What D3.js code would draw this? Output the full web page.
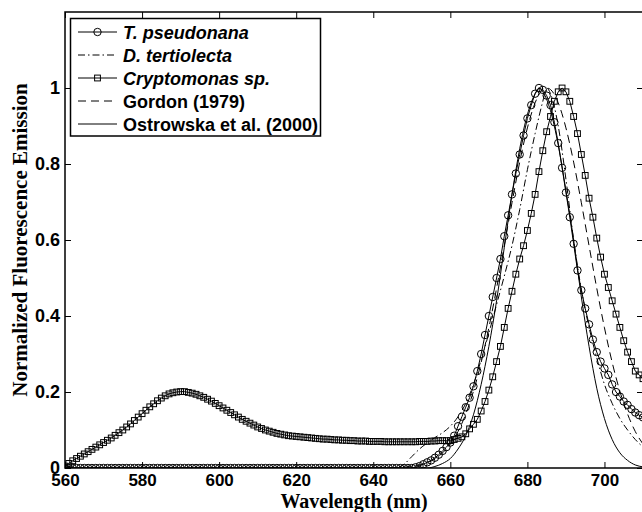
<!DOCTYPE html>
<html>
<head>
<meta charset="utf-8">
<script src="https://cdn.jsdelivr.net/npm/d3@7"></script>
<style>
  body { margin: 0; background: #fff; }
  svg { display: block; }
</style>
</head>
<body>
<div id="graf"></div>
<script>
// Datos (longitud de onda en nm, emision normalizada)
const wl1nm = [
  560,561,562,563,564,565,566,567,568,569,570,571,572,573,574,575,576,577,578,579,
  580,581,582,583,584,585,586,587,588,589,590,591,592,593,594,595,596,597,598,599,
  600,601,602,603,604,605,606,607,608,609,610,611,612,613,614,615,616,617,618,619,
  620,621,622,623,624,625,626,627,628,629,630,631,632,633,634,635,636,637,638,639,
  640,641,642,643,644,645,646,647,648,649,650,651,652,653,654,655,656,657,658,659,
  660,661,662,663,664,665,666,667,668,669,670,671,672,673,674,675,676,677,678,679,
  680,681,682,683,684,685,686,687,688,689,690,691,692,693,694,695,696,697,698,699,
  700,701,702,703,704,705,706,707,708,709,710]

// T. pseudonana (circulos)
const tPseudonana = [
  0,0,0,0,0,0,0,0,0,0, 0,0,0,0,0,0,0,0,0,0,
  0,0,0,0,0,0,0,0,0,0, 0,0,0,0,0,0,0,0,0,0,
  0,0,0,0,0,0,0,0,0,0, 0,0,0,0,0,0,0,0,0,0,
  0,0,0,0,0,0,0,0,0,0, 0,0,0,0,0,0,0,0,0,0,
  0,0,0,0,0,0,0,0,0,0, 0,0.002,0.005,0.01,0.015,0.02,0.027,0.035,0.045,0.055,
  0.067,0.085,0.11,0.135,0.16,0.185,0.215,0.255,0.3,0.35,
  0.4,0.45,0.5,0.55,0.61,0.665,0.72,0.775,0.825,0.875,
  0.92,0.955,0.985,1.0,0.995,0.98,0.955,0.91,0.855,0.79,
  0.725,0.66,0.59,0.52,0.468,0.42,0.378,0.338,0.305,0.28,
  0.262,0.245,0.22,0.2,0.188,0.175,0.166,0.155,0.146,0.139,0.133]

// Cryptomonas sp. (cuadrados)
const cryptomonas = [
  0.005,0.012,0.019,0.025,0.031,0.037,0.043,0.049,0.055,0.061,
  0.067,0.073,0.079,0.086,0.093,0.100,0.108,0.116,0.125,0.134,
  0.143,0.152,0.161,0.169,0.177,0.184,0.190,0.195,0.198,0.200,
  0.201,0.201,0.199,0.197,0.194,0.190,0.186,0.181,0.176,0.170,
  0.164,0.158,0.152,0.146,0.140,0.134,0.128,0.123,0.118,0.113,
  0.108,0.104,0.100,0.097,0.094,0.091,0.089,0.087,0.085,0.084,
  0.083,0.082,0.081,0.080,0.079,0.078,0.077,0.076,0.076,0.075,
  0.074,0.074,0.073,0.073,0.072,0.072,0.071,0.071,0.071,0.070,
  0.070,0.070,0.070,0.069,0.069,0.069,0.069,0.069,0.069,0.069,
  0.069,0.069,0.070,0.070,0.070,0.071,0.071,0.072,0.072,0.072,
  0.072,0.075,0.078,0.082,0.09,0.103,0.115,0.128,0.15,0.175,
  0.205,0.24,0.28,0.32,0.37,0.42,0.465,0.51,0.55,0.585,
  0.625,0.67,0.72,0.78,0.835,0.885,0.925,0.965,0.99,1.0,
  0.99,0.965,0.925,0.88,0.825,0.77,0.71,0.66,0.605,0.555,
  0.51,0.475,0.44,0.405,0.37,0.335,0.305,0.28,0.255,0.245,0.235]

// D. tertiolecta (raya-punto)
const dtWl = [560,646,648,650,652,654,656,658,660,662,664,666,668,670,672,674,676,678,680,682,684,685,686,688,690,692,694,696,698,700,702,704,706,708,710]
const dTertiolecta = [0,0,0.01,0.03,0.05,0.066,0.08,0.093,0.11,0.135,0.17,0.22,0.285,0.355,0.43,0.505,0.585,0.68,0.785,0.88,0.965,1.0,0.985,0.9,0.76,0.6,0.47,0.37,0.29,0.22,0.17,0.13,0.1,0.075,0.055]

// Gordon (1979) (rayas)
const gordonWl = [560,646,648,650,652,654,656,658,660,662,664,666,668,670,672,674,676,678,680,682,684,685,686,688,690,692,694,696,698,700,702,704,706,708,710]
const gordon = [0,0.001,0.002,0.004,0.008,0.014,0.024,0.04,0.063,0.096,0.142,0.202,0.278,0.369,0.473,0.585,0.698,0.805,0.895,0.961,0.996,1.0,0.996,0.961,0.895,0.805,0.698,0.585,0.473,0.369,0.278,0.202,0.142,0.096,0.063]

// Ostrowska et al. (2000) (linea continua)
const ostWl = [560,654,656,658,660,662,664,666,668,670,672,674,676,678,680,682,683,684,686,688,690,692,694,696,698,700,702,704,706,708,710]
const ostrowska = [0,0,0.004,0.012,0.025,0.05,0.085,0.14,0.22,0.32,0.44,0.58,0.72,0.84,0.93,0.985,1.0,0.99,0.94,0.85,0.73,0.6,0.45,0.32,0.21,0.13,0.075,0.04,0.02,0.008,0.003]

const xTicks = [560, 580, 600, 620, 640, 660, 680, 700]
const yTicks = [0, 0.2, 0.4, 0.6, 0.8, 1]
const legendLabels = ['T. pseudonana', 'D. tertiolecta', 'Cryptomonas sp.', 'Gordon (1979)', 'Ostrowska et al. (2000)']

// Espacio de visualizacion
ancho_total = 642
alto_total = 512
margins = {top: 12, left: 65, right: -1, bottom: 44}
ancho = ancho_total - margins.left - margins.right
alto = alto_total - margins.top - margins.bottom

svg = d3.select('#graf').append('svg')
  .attr('width', ancho_total)
  .attr('height', alto_total)

g = svg.append('g')
  .attr('transform', `translate(${margins.left}, ${margins.top})`)

x = d3.scaleLinear().domain([560, 710]).range([0, ancho])
y = d3.scaleLinear().domain([0, 1.2]).range([alto, 0])

sansBold = "'Liberation Sans', Arial, sans-serif"
serif = "'Liberation Serif', 'Times New Roman', serif"

g.append('clipPath').attr('id', 'clip')
  .append('rect').attr('x', 0).attr('y', 0).attr('width', ancho).attr('height', alto)

// Ejes (ticks hacia dentro, estilo MATLAB)
ejeX = g.append('g')
  .attr('transform', `translate(0, ${alto})`)
  .call(d3.axisBottom(x).tickValues(xTicks).tickSizeInner(-6).tickSizeOuter(0).tickPadding(6).tickFormat(d3.format('d')))
ejeY = g.append('g')
  .call(d3.axisLeft(y).tickValues(yTicks).tickSizeInner(-6).tickSizeOuter(0).tickPadding(5).tickFormat(d3.format('~g')))
ejeXTop = g.append('g')
  .call(d3.axisTop(x).tickValues(xTicks).tickSizeInner(-6).tickSizeOuter(0).tickFormat(''))
ejeYDer = g.append('g')
  .attr('transform', `translate(${ancho}, 0)`)
  .call(d3.axisRight(y).tickValues(yTicks).tickSizeInner(-6).tickSizeOuter(0).tickFormat(''))

;[ejeX, ejeY, ejeXTop, ejeYDer].forEach(a => {
  a.select('.domain').remove()
  a.selectAll('.tick line').attr('stroke', '#000').attr('stroke-width', 1)
  a.selectAll('.tick text')
    .attr('font-family', sansBold)
    .attr('font-weight', 'bold')
    .attr('font-size', a === ejeX ? '17px' : '18px')
    .attr('fill', '#000')
})

// Marco
g.append('rect')
  .attr('x', 0).attr('y', 0)
  .attr('width', ancho).attr('height', alto)
  .attr('fill', 'none')
  .attr('stroke', '#000')
  .attr('stroke-width', 1.5)

// Series
series = [
  {name: legendLabels[0], xs: wl1nm, ys: tPseudonana, dash: null, marker: 'circle', curve: d3.curveLinear},
  {name: legendLabels[1], xs: dtWl, ys: dTertiolecta, dash: '7,3,1.5,3', marker: null, curve: d3.curveMonotoneX},
  {name: legendLabels[2], xs: wl1nm, ys: cryptomonas, dash: null, marker: 'square', curve: d3.curveLinear},
  {name: legendLabels[3], xs: gordonWl, ys: gordon, dash: '8,5', marker: null, curve: d3.curveMonotoneX},
  {name: legendLabels[4], xs: ostWl, ys: ostrowska, dash: null, marker: null, curve: d3.curveMonotoneX}
]

plot = g.append('g').attr('clip-path', 'url(#clip)')

function drawMarker(sel, tipo, cx, cy) {
  if (tipo == 'circle') {
    sel.append('circle')
      .attr('cx', cx).attr('cy', cy).attr('r', 3.7)
      .attr('fill', 'none').attr('stroke', '#000').attr('stroke-width', 1)
  } else if (tipo == 'square') {
    sel.append('rect')
      .attr('x', cx - 2.9).attr('y', cy - 2.9)
      .attr('width', 5.8).attr('height', 5.8)
      .attr('fill', 'none').attr('stroke', '#000').attr('stroke-width', 1)
  }
}

series.forEach(s => {
  pts = s.xs.map((w, i) => [w, s.ys[i]])
  linea = d3.line().x(d => x(d[0])).y(d => y(d[1])).curve(s.curve)
  plot.append('path')
    .attr('d', linea(pts))
    .attr('fill', 'none')
    .attr('stroke', '#000')
    .attr('stroke-width', 1)
    .attr('stroke-dasharray', s.dash)
  if (s.marker) {
    mg = plot.append('g')
    pts.forEach(p => drawMarker(mg, s.marker, x(p[0]), y(p[1])))
  }
})

// Leyenda
leg = svg.append('g')
leg.append('rect')
  .attr('x', 70.5).attr('y', 18.5)
  .attr('width', 250).attr('height', 117.5)
  .attr('fill', '#fff')
  .attr('stroke', '#000')
  .attr('stroke-width', 1.5)

series.forEach((s, i) => {
  yy = 32 + i * 23
  leg.append('line')
    .attr('x1', 78).attr('x2', 117)
    .attr('y1', yy).attr('y2', yy)
    .attr('stroke', '#000').attr('stroke-width', 1)
    .attr('stroke-dasharray', s.dash)
  drawMarker(leg, s.marker, 97.5, yy)
  leg.append('text')
    .attr('x', 123).attr('y', yy + 6.5)
    .attr('font-family', sansBold)
    .attr('font-weight', 'bold')
    .attr('font-style', i < 3 ? 'italic' : 'normal')
    .attr('font-size', '18px')
    .text(s.name)
})

// Titulos de los ejes
svg.append('text')
  .attr('x', margins.left + ancho / 2).attr('y', 507.5)
  .attr('text-anchor', 'middle')
  .attr('font-family', serif)
  .attr('font-weight', 'bold')
  .attr('font-size', '20px')
  .text('Wavelength (nm)')

svg.append('text')
  .attr('transform', `translate(27, ${margins.top + alto / 2}) rotate(-90)`)
  .attr('text-anchor', 'middle')
  .attr('font-family', serif)
  .attr('font-weight', 'bold')
  .attr('font-size', '21px')
  .text('Normalized Fluorescence Emission')
</script>
</body>
</html>
